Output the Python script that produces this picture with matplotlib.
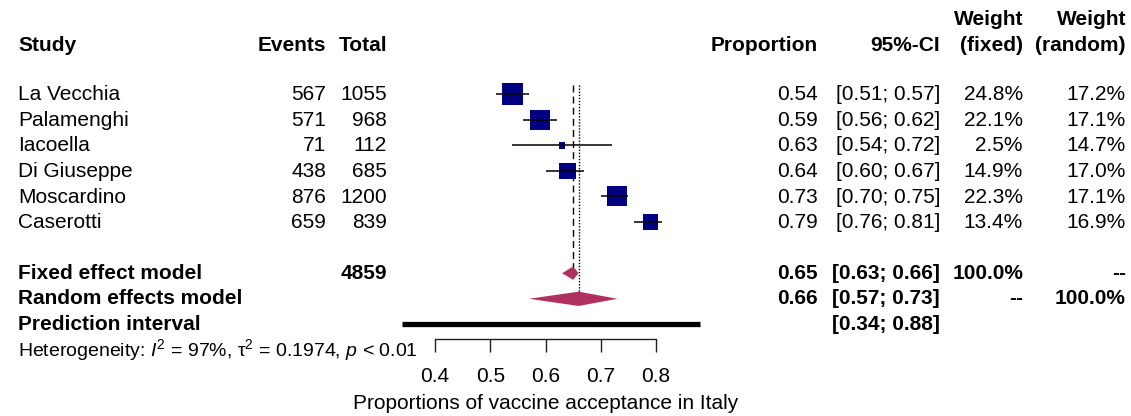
import matplotlib
matplotlib.use("Agg")
import matplotlib.pyplot as plt
from matplotlib.patches import Polygon
from matplotlib.transforms import blended_transform_factory
import numpy as np

plt.rcParams['font.family'] = ['Liberation Sans', 'DejaVu Sans']
plt.rcParams['mathtext.fontset'] = 'custom'
plt.rcParams['mathtext.rm'] = 'Liberation Sans'
plt.rcParams['mathtext.it'] = 'Liberation Sans:italic'

# Study data
studies = ["La Vecchia", "Palamenghi", "Iacoella", "Di Giuseppe", "Moscardino", "Caserotti"]
events = [567, 571, 71, 438, 876, 659]
totals = [1055, 968, 112, 685, 1200, 839]
prop = [0.54, 0.59, 0.63, 0.64, 0.73, 0.79]
ci_low = [0.51, 0.56, 0.54, 0.60, 0.70, 0.76]
ci_high = [0.57, 0.62, 0.72, 0.67, 0.75, 0.81]
w_fixed = [24.8, 22.1, 2.5, 14.9, 22.3, 13.4]
w_random = [17.2, 17.1, 14.7, 17.0, 17.1, 16.9]

# pooled estimates: (estimate, lower, upper)
fixed_est = [0.65, 0.63, 0.66]
random_est = [0.66, 0.57, 0.73]
pred_int = [0.34, 0.88]
total_n = 4859

xticks = [0.4, 0.5, 0.6, 0.7, 0.8]

fs = 15
navy = "#000080"
maroon = "#B03060"

fig = plt.figure(figsize=(11.31, 4.16), dpi=100)
ax = fig.add_axes([0, 0, 1, 1])

# 0.4 sits at x=435px and 0.8 at x=656px
px_per_unit = 221 / 0.4
ax.set_xlim(0.4 - 435 / px_per_unit, 0.8 + (1131 - 656) / px_per_unit)
# rows are 25.6px apart, first study row at y=94px
ax.set_ylim((416 - 94) / 25.6, -94 / 25.6)

for s in ["top", "right", "left"]:
    ax.spines[s].set_visible(False)
ax.set_yticks([])
ax.spines["bottom"].set_position(("data", 9.57))
ax.spines["bottom"].set_bounds(0.4, 0.8)
ax.spines["bottom"].set_linewidth(1.0)
ax.spines["bottom"].set_color("#222222")
ax.set_xticks(xticks)
ax.set_xticklabels([str(t) for t in xticks])
ax.tick_params(axis="x", direction="out", length=9, width=1.0, color="#222222",
               labelsize=fs, pad=11)
ax.patch.set_visible(False)

rows = np.arange(len(studies))
r_fixed, r_random, r_pred, r_het = 7, 8, 9, 10

# study squares, size by fixed-effect weight
side_pt = 4.25 * np.sqrt(w_fixed) * 0.72
ax.scatter(prop, rows, marker="s", s=side_pt ** 2, color=navy, linewidths=0, zorder=3)
ax.hlines(rows, ci_low, ci_high, color="black", lw=1.1, zorder=4)

# reference lines
ax.vlines(fixed_est[0], -0.35, 6.8, color="black", lw=1.0, linestyles=(0, (5, 3)))
ax.vlines(random_est[0], -0.35, 7.75, color="black", lw=1.0, linestyles=(0, (1, 1.2)))

# diamonds
for est, r, h in [(fixed_est, r_fixed, 0.26), (random_est, r_random, 0.28)]:
    d = Polygon([(est[1], r), (est[0], r - h), (est[2], r), (est[0], r + h)],
                closed=True, color=maroon, lw=0, zorder=3)
    ax.add_patch(d)

ax.hlines(r_pred, pred_int[0], pred_int[1], color="black", lw=3.8, capstyle="butt")

# text columns, x in figure pixels
tr = blended_transform_factory(fig.transFigure, ax.transData)
W = 1131.0

def col(x, y, s, ha="right", bold=False, size=fs):
    ax.text(x / W, y, s, transform=tr, ha=ha, va="center", fontsize=size,
            fontweight="bold" if bold else "normal", clip_on=False)

hdr = -1.9
col(18, hdr, "Study", ha="left", bold=True)
col(326, hdr, "Events", bold=True)
col(387, hdr, "Total", bold=True)
col(818, hdr, "Proportion", bold=True)
col(940, hdr, "95%-CI", bold=True)
col(1023, hdr - 1.02, "Weight", bold=True)
col(1023, hdr, "(fixed)", bold=True)
col(1126, hdr - 1.02, "Weight", bold=True)
col(1126, hdr, "(random)", bold=True)

for i in rows:
    col(18, i + 0.03, studies[i], ha="left")
    col(326, i + 0.03, str(events[i]))
    col(387, i + 0.03, str(totals[i]))
    col(818, i + 0.03, "%.2f" % prop[i])
    col(940, i + 0.03, "[%.2f; %.2f]" % (ci_low[i], ci_high[i]))
    col(1023, i + 0.03, "%.1f%%" % w_fixed[i])
    col(1126, i + 0.03, "%.1f%%" % w_random[i])

col(18, r_fixed, "Fixed effect model", ha="left", bold=True)
col(387, r_fixed, str(total_n), bold=True)
col(818, r_fixed, "%.2f" % fixed_est[0], bold=True)
col(940, r_fixed, "[%.2f; %.2f]" % (fixed_est[1], fixed_est[2]), bold=True)
col(1023, r_fixed, "100.0%", bold=True)
col(1126, r_fixed, "--", bold=True)

col(18, r_random, "Random effects model", ha="left", bold=True)
col(818, r_random, "%.2f" % random_est[0], bold=True)
col(940, r_random, "[%.2f; %.2f]" % (random_est[1], random_est[2]), bold=True)
col(1023, r_random, "--", bold=True)
col(1126, r_random, "100.0%", bold=True)

col(18, r_pred, "Prediction interval", ha="left", bold=True)
col(940, r_pred, "[%.2f; %.2f]" % (pred_int[0], pred_int[1]), bold=True)

col(18, r_het, r"Heterogeneity: $\mathit{I}^2$ = 97%, τ$^2$ = 0.1974, $\mathit{p}$ < 0.01",
    ha="left", size=14)

ax.text(0.6, 12.1, "Proportions of vaccine acceptance in Italy", ha="center",
        va="center", fontsize=fs)

fig.savefig("out.png", dpi=100)
